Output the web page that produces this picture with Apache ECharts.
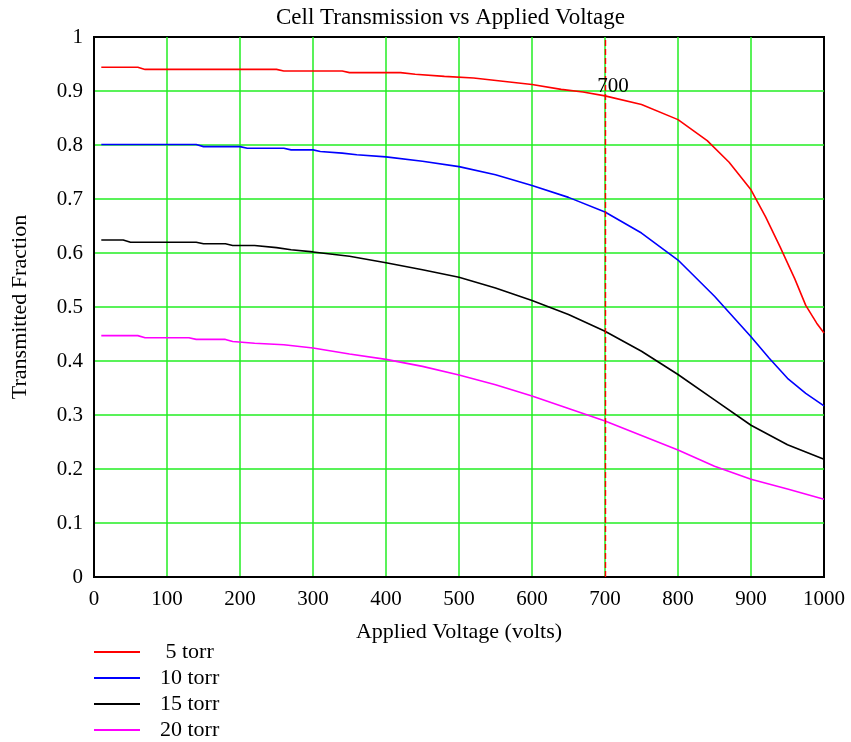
<!DOCTYPE html>
<html>
<head>
<meta charset="utf-8">
<script src="https://cdn.jsdelivr.net/npm/echarts@6/dist/echarts.min.js"></script>
<style>html,body{margin:0;padding:0;background:#fff}#c{width:851px;height:742px}</style>
</head>
<body>
<div id="c"></div>
<script>
var seriesNames = ['5 torr', '10 torr', '15 torr', '20 torr'];
var seriesColors = ['#ff0000', '#0000ff', '#000000', '#ff00ff'];

var volts5 = [10,60,70,250,260,340,350,420,440,480,520,560,600,640,670,700,750,800,840,870,900,920,940,960,975,990,1000];
var trans5 = [0.944,0.944,0.940,0.940,0.937,0.937,0.934,0.934,0.931,0.927,0.924,0.918,0.912,0.903,0.898,0.891,0.875,0.847,0.808,0.768,0.717,0.667,0.611,0.552,0.503,0.470,0.452];

var volts10 = [10,140,150,200,210,260,270,300,310,340,360,400,450,500,550,600,650,700,750,800,850,900,925,950,975,1000];
var trans10 = [0.801,0.801,0.797,0.797,0.794,0.794,0.791,0.791,0.788,0.785,0.782,0.778,0.770,0.760,0.745,0.725,0.703,0.676,0.637,0.587,0.520,0.445,0.405,0.368,0.340,0.317];

var volts15 = [10,40,50,140,150,180,190,220,250,270,300,350,400,450,500,550,600,650,700,750,800,850,900,950,1000];
var trans15 = [0.624,0.624,0.620,0.620,0.617,0.617,0.614,0.614,0.610,0.606,0.602,0.594,0.582,0.569,0.555,0.535,0.512,0.486,0.455,0.418,0.375,0.328,0.281,0.245,0.218];

var volts20 = [10,60,70,130,140,180,190,220,260,300,350,400,450,500,550,600,650,700,750,800,850,900,950,1000];
var trans20 = [0.447,0.447,0.443,0.443,0.440,0.440,0.436,0.433,0.430,0.424,0.413,0.403,0.390,0.374,0.356,0.335,0.312,0.289,0.262,0.235,0.205,0.181,0.163,0.144];

var markerVolt = 700;
var markerLabel = '700';

var voltArrays = [volts5, volts10, volts15, volts20];
var transArrays = [trans5, trans10, trans15, trans20];

function pairs(xs, ys) { return xs.map(function (x, i) { return [x, ys[i]]; }); }

var FONT = '"Liberation Serif", "DejaVu Serif", serif';
var GREEN = '#22ee22';

var series = seriesNames.map(function (name, i) {
  var s = {
    name: name,
    type: 'line',
    data: pairs(voltArrays[i], transArrays[i]),
    symbol: 'none',
    lineStyle: { color: seriesColors[i], width: 1.6 },
    itemStyle: { color: seriesColors[i] },
    z: 3
  };
  if (i === 0) {
    s.markLine = {
      silent: true,
      symbol: ['none', 'none'],
      lineStyle: { color: '#ff0000', type: [6, 3], width: 1.4 },
      label: { show: false },
      data: [{ xAxis: markerVolt }]
    };
    s.markPoint = {
      symbol: 'circle',
      symbolSize: 0,
      label: { show: true, formatter: markerLabel, color: '#000', fontFamily: FONT, fontSize: 21, position: 'inside' },
      data: [{ coord: [markerVolt + 11, 0.909] }]
    };
  }
  return s;
});

var frameAxisLine = { show: true, lineStyle: { color: '#000', width: 2 } };
var gridSplit = { show: true, showMinLine: false, showMaxLine: false, lineStyle: { color: GREEN, width: 1.5 } };

var chart = echarts.init(document.getElementById('c'));
chart.setOption({
  animation: false,
  backgroundColor: '#fff',
  title: {
    text: 'Cell Transmission vs Applied Voltage',
    left: 276,
    top: 6,
    padding: 0,
    textStyle: { fontFamily: FONT, fontSize: 23, fontWeight: 'normal', color: '#000' }
  },
  legend: {
    orient: 'vertical',
    left: 94,
    top: 639,
    padding: 0,
    width: 300,
    height: 110,
    icon: 'rect',
    itemWidth: 46,
    itemHeight: 2,
    itemGap: 0,
    data: seriesNames,
    formatter: function (n) { return n.length < 7 ? ' ' + n : n; },
    textStyle: { fontFamily: FONT, fontSize: 22, color: '#000', lineHeight: 26, padding: [0, 0, 0, 15] }
  },
  grid: {
    left: 94, right: 27, top: 37, bottom: 165,
    show: true, borderColor: '#000', borderWidth: 2, backgroundColor: 'transparent'
  },
  xAxis: {
    type: 'value', min: 0, max: 1000, interval: 100,
    name: 'Applied Voltage (volts)', nameLocation: 'middle', nameGap: 44,
    nameTextStyle: { fontFamily: FONT, fontSize: 22, color: '#000' },
    axisLine: frameAxisLine,
    axisTick: { show: false },
    axisLabel: { fontFamily: FONT, fontSize: 21, color: '#000', margin: 12,
      formatter: function (v) { return String(v); } },
    splitLine: gridSplit
  },
  yAxis: {
    type: 'value', min: 0, max: 1, interval: 0.1,
    name: 'Transmitted Fraction', nameLocation: 'middle', nameGap: 63,
    nameTextStyle: { fontFamily: FONT, fontSize: 22, color: '#000' },
    axisLine: frameAxisLine,
    axisTick: { show: false },
    axisLabel: { fontFamily: FONT, fontSize: 21, color: '#000', margin: 11,
      formatter: function (v) { return String(Math.round(v * 10) / 10); } },
    splitLine: gridSplit
  },
  series: series
});
</script>
</body>
</html>
